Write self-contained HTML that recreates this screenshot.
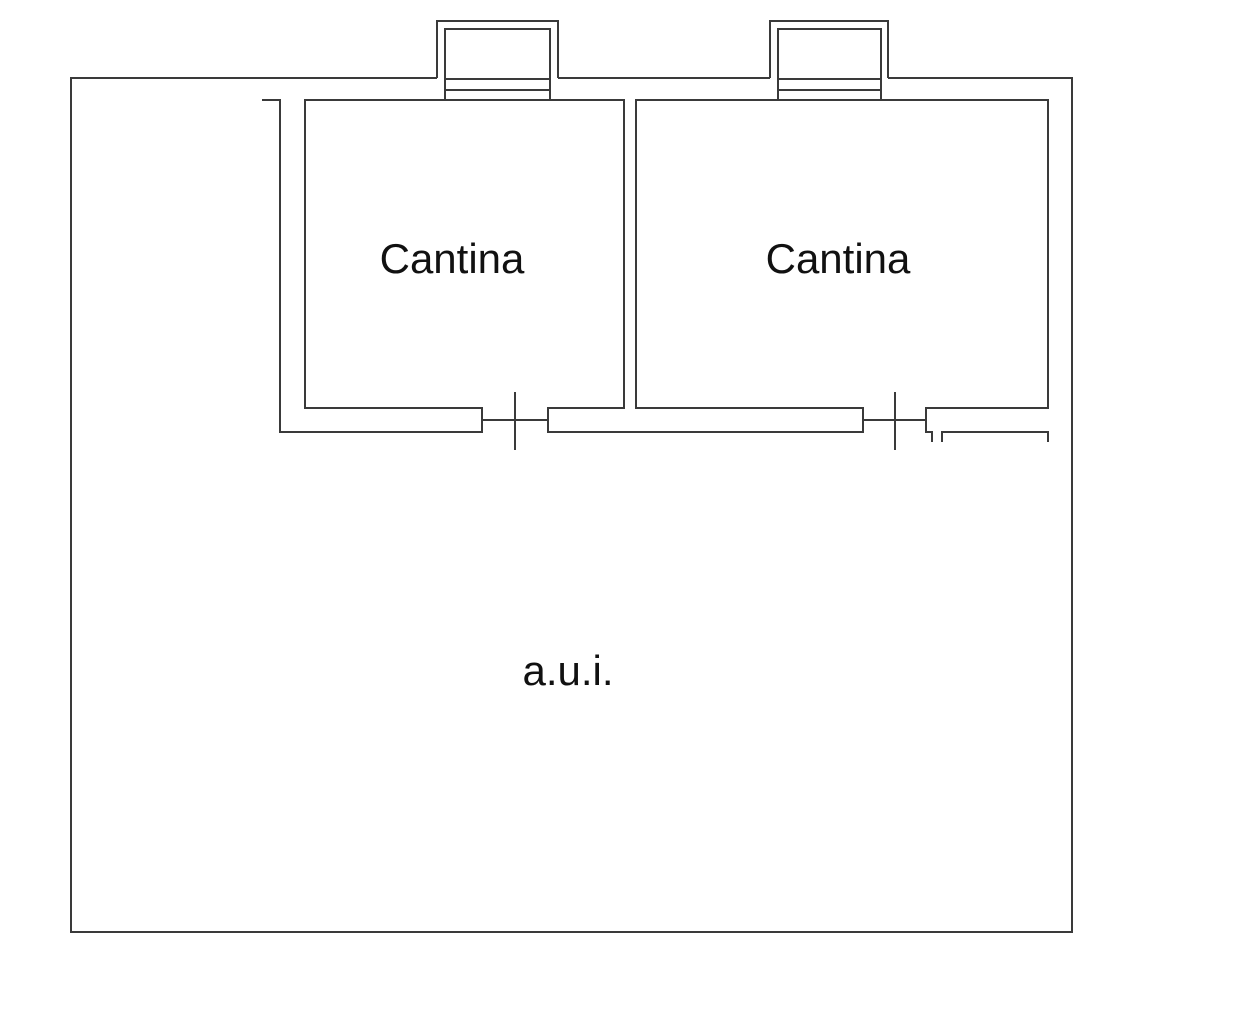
<!DOCTYPE html>
<html><head><style>html,body{margin:0;padding:0;background:#fff;}</style></head>
<body>
<svg width="1236" height="1014" viewBox="0 0 1236 1014" xmlns="http://www.w3.org/2000/svg" style="display:block">
<g fill="none" stroke="#3a3a3a" stroke-width="2">
<polyline points="437,78 71,78 71,932 1072,932 1072,78 888,78"/>
<polyline points="558,78 770,78"/>
<polyline points="437,78 437,21 558,21 558,78"/>
<polyline points="445,100 445,29 550,29 550,100"/>
<line x1="445" y1="79" x2="550" y2="79"/>
<line x1="445" y1="90" x2="550" y2="90"/>
<polyline points="770,78 770,21 888,21 888,78"/>
<polyline points="778,100 778,29 881,29 881,100"/>
<line x1="778" y1="79" x2="881" y2="79"/>
<line x1="778" y1="90" x2="881" y2="90"/>
<polyline points="262,100 280,100 280,432 482,432 482,408 305,408 305,100 624,100 624,408 548,408 548,432 863,432 863,408 636,408 636,100 1048,100 1048,408 926,408 926,432 932,432 932,442"/>
<polyline points="942,442 942,432 1048,432 1048,442"/>
<line x1="482" y1="420" x2="548" y2="420"/>
<line x1="515" y1="392" x2="515" y2="450"/>
<line x1="863" y1="420" x2="926" y2="420"/>
<line x1="895" y1="392" x2="895" y2="450"/>
</g>
<g font-family="Liberation Sans, sans-serif" fill="#111" font-size="42">
<text x="452" y="273" text-anchor="middle">Cantina</text>
<text x="838" y="273" text-anchor="middle">Cantina</text>
<text x="568" y="685" text-anchor="middle" font-size="42">a.u.i.</text>
</g>
</svg>
</body></html>
